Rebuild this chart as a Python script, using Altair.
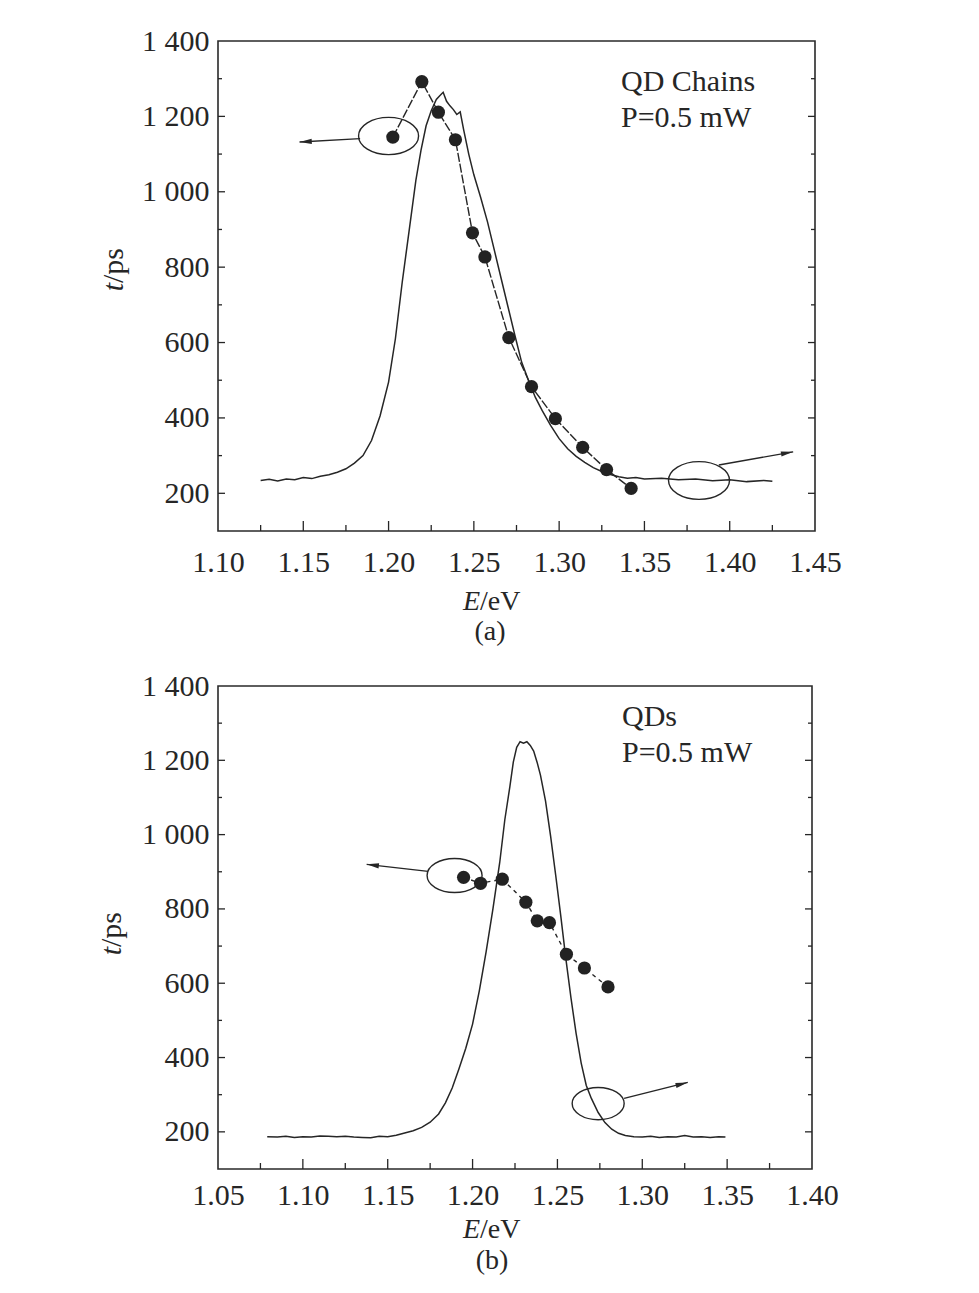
import altair as alt
import pandas as pd

FONT = "Liberation Serif"
INK = "#262626"
FS = 30
FS_T = 28

# ---------------- panel (a): QD chains ----------------
a_pl_E = [1.125, 1.130, 1.135, 1.140, 1.145, 1.150, 1.155, 1.160, 1.165, 1.170,
          1.175, 1.180, 1.185, 1.190, 1.195, 1.200, 1.204, 1.208, 1.212, 1.216,
          1.219, 1.222, 1.225, 1.228, 1.230, 1.232, 1.234, 1.236, 1.238, 1.240,
          1.242, 1.244, 1.247, 1.250, 1.254, 1.258, 1.262, 1.266, 1.270, 1.274,
          1.278, 1.282, 1.286, 1.290, 1.295, 1.300, 1.305, 1.310, 1.315, 1.320,
          1.325, 1.330, 1.335, 1.340, 1.345, 1.350, 1.360, 1.370, 1.380, 1.390,
          1.400, 1.410, 1.420, 1.425]
a_pl_t = [234, 237, 233, 238, 236, 242, 239, 245, 249, 256,
          265, 280, 300, 340, 405, 495, 610, 760, 895, 1030,
          1110, 1175, 1215, 1245, 1255, 1264, 1240, 1228, 1218, 1205,
          1212, 1165, 1100, 1045, 985, 920, 845, 770, 695, 620,
          548, 500, 455, 420, 380, 345, 318, 298, 282, 268,
          258, 250, 244, 240, 242, 238, 240, 236, 238, 233,
          236, 231, 234, 232]
a_dot_E = [1.2025, 1.2195, 1.2292, 1.2392, 1.2492, 1.2565, 1.2705, 1.2838,
           1.2978, 1.3138, 1.3278, 1.3422]
a_dot_t = [1145, 1292, 1211, 1138, 891, 827, 613, 483, 398, 322, 263, 213]
a_xticks = [1.10, 1.15, 1.20, 1.25, 1.30, 1.35, 1.40, 1.45]
a_xmajor_in = [1.15, 1.20, 1.25, 1.30, 1.35, 1.40]
a_xminor = [1.125, 1.175, 1.225, 1.275, 1.325, 1.375, 1.425]
a_ell_E = [1.200, 1.382]
a_ell_t = [1148, 234]
a_arr_E0 = [1.1833, 1.3936]
a_arr_t0 = [1141, 275]
a_arr_E1 = [1.1478, 1.4372]
a_arr_t1 = [1132, 310]
a_notes = ["QD Chains", "P=0.5 mW"]
a_caption = ["(a)"]

# ---------------- panel (b): QDs ----------------
b_pl_E = [1.079, 1.085, 1.090, 1.095, 1.100, 1.105, 1.110, 1.115, 1.120, 1.125,
          1.130, 1.135, 1.140, 1.145, 1.150, 1.155, 1.160, 1.165, 1.170, 1.175,
          1.180, 1.184, 1.188, 1.192, 1.196, 1.200, 1.204, 1.208, 1.212, 1.216,
          1.219, 1.222, 1.224, 1.226, 1.228, 1.230, 1.232, 1.234, 1.236, 1.238,
          1.240, 1.243, 1.246, 1.249, 1.252, 1.255, 1.258, 1.261, 1.264, 1.267,
          1.270, 1.274, 1.278, 1.282, 1.286, 1.290, 1.295, 1.300, 1.305, 1.310,
          1.315, 1.320, 1.325, 1.330, 1.335, 1.340, 1.345, 1.349]
b_pl_t = [187, 186, 188, 185, 187, 186, 189, 188, 187, 188,
          186, 185, 184, 188, 187, 191, 197, 203, 212, 226,
          248, 278, 318, 370, 425, 490, 580, 685, 800, 925,
          1040, 1130, 1195, 1235, 1250, 1246, 1250, 1240, 1225, 1195,
          1160, 1090, 995, 890, 780, 665, 560, 465, 385, 325,
          290, 252, 225, 207, 196, 190, 187, 186, 188, 185,
          187, 186, 190, 186, 187, 185, 187, 186]
b_dot_E = [1.1947, 1.2047, 1.2175, 1.2314, 1.2381, 1.2453, 1.2553, 1.2659, 1.2798]
b_dot_t = [885, 869, 880, 818, 768, 763, 678, 641, 590]
b_xticks = [1.05, 1.10, 1.15, 1.20, 1.25, 1.30, 1.35, 1.40]
b_xmajor_in = [1.10, 1.15, 1.20, 1.25, 1.30, 1.35]
b_xminor = [1.075, 1.125, 1.175, 1.225, 1.275, 1.325, 1.375]
b_ell_E = [1.1894, 1.274]
b_ell_t = [890, 276]
b_arr_E0 = [1.1738, 1.2893]
b_arr_t0 = [901, 290]
b_arr_E1 = [1.1376, 1.3268]
b_arr_t1 = [920, 333]
b_notes = ["QDs", "P=0.5 mW"]
b_caption = ["(b)"]

# ---------------- shared ----------------
y_ticks = [200, 400, 600, 800, 1000, 1200, 1400]
y_major_in = [200, 400, 600, 800, 1000, 1200]
y_minor = [300, 500, 700, 900, 1100, 1300]
x_title = ["E", "/eV"]
y_title = ["t", "/ps"]

K = 0.5523
R = 0.62
ELLIPSE = (f"M1,0 C1,{K*R:.4f} {K:.4f},{R} 0,{R} C{-K:.4f},{R} -1,{K*R:.4f} -1,0 "
           f"C-1,{-K*R:.4f} {-K:.4f},{-R} 0,{-R} C{K:.4f},{-R} 1,{-K*R:.4f} 1,0 Z")
HEAD = "M0,0 L-2,-0.42 L-2,0.42 Z"


def panel(pl_E, pl_t, dot_E, dot_t, xdom, xticks, xmajor, xminor,
          ell_E, ell_t, ell_sizes, a0E, a0t, a1E, a1t, angles,
          notes, caption, W, H, lay):
    xs = alt.Scale(domain=xdom, nice=False, zero=False)
    ys = alt.Scale(domain=[100, 1400], nice=False, zero=False)

    xaxis = alt.Axis(values=xticks, format=".2f", title=None, ticks=False, tickSize=0,
                     domain=False, grid=False, labelPadding=lay["xpad"],
                     labelFontSize=FS, labelFont=FONT, labelColor=INK,
                     labelFlush=False, labelOverlap=False)
    yaxis = alt.Axis(values=y_ticks, title=None, ticks=False, tickSize=0, domain=False,
                     grid=False, labelPadding=9, labelFontSize=FS, labelFont=FONT,
                     labelColor=INK, labelFlush=False, labelOverlap=False,
                     labelExpr="replace(format(datum.value, ','), ',', ' ')")

    def X(f):
        return alt.X(f, scale=xs, axis=xaxis)

    def Y(f):
        return alt.Y(f, scale=ys, axis=yaxis)

    pl = alt.Chart(pd.DataFrame({"E": pl_E, "t": pl_t})).mark_line(
        color=INK, strokeWidth=1.5).encode(x=X("E:Q"), y=Y("t:Q"))

    dots_df = pd.DataFrame({"E": dot_E, "t": dot_t})
    dline = alt.Chart(dots_df).mark_line(
        color=INK, strokeWidth=1.4, strokeDash=lay["dash"]).encode(x=X("E:Q"), y=Y("t:Q"))
    dots = alt.Chart(dots_df).mark_circle(
        color="#222222", size=175, opacity=1).encode(x=X("E:Q"), y=Y("t:Q"))

    layers = [pl, dline, dots]

    # ellipses
    for i in range(len(ell_E)):
        layers.append(alt.Chart(pd.DataFrame({"E": [ell_E[i]], "t": [ell_t[i]]})).mark_point(
            shape=ELLIPSE, size=ell_sizes[i], filled=False, color=INK,
            strokeWidth=1.4, opacity=1).encode(x=X("E:Q"), y=Y("t:Q")))

    # arrows
    for i in range(len(a0E)):
        adf = pd.DataFrame({"E": [a0E[i]], "t": [a0t[i]], "E1": [a1E[i]], "t1": [a1t[i]]})
        layers.append(alt.Chart(adf).mark_rule(color=INK, strokeWidth=1.4).encode(
            x=X("E:Q"), y=Y("t:Q"), x2="E1:Q", y2="t1:Q"))
        layers.append(alt.Chart(adf).mark_point(
            shape=HEAD, size=150, filled=True, color=INK, opacity=1,
            angle=angles[i]).encode(x=X("E1:Q"), y=Y("t1:Q")))

    # inward ticks
    def xt(vals, ln):
        return alt.Chart(pd.DataFrame({"E": vals})).mark_rule(
            color=INK, strokeWidth=1.3).encode(
            x=X("E:Q"), y=alt.value(H), y2=alt.value(H - ln))

    def yt(vals, ln, side):
        x0 = 0 if side == "left" else W
        x1 = ln if side == "left" else W - ln
        return alt.Chart(pd.DataFrame({"t": vals})).mark_rule(
            color=INK, strokeWidth=1.3).encode(
            y=Y("t:Q"), x=alt.value(x0), x2=alt.value(x1))

    layers += [xt(xmajor, 10), xt(xminor, 6),
               yt(y_major_in, 7, "left"), yt(y_minor, 4, "left"),
               yt(y_major_in, 7, "right"), yt(y_minor, 4, "right")]

    # annotation text
    for i, s in enumerate(notes):
        layers.append(alt.Chart(pd.DataFrame({"s": [s]})).mark_text(
            font=FONT, fontSize=FS, color=INK, align="left", baseline="middle").encode(
            x=alt.value(lay["note_x"]), y=alt.value(lay["note_y"][i]), text="s:N"))

    # x title (italic E + /eV)
    layers.append(alt.Chart(pd.DataFrame({"s": [x_title[0]]})).mark_text(
        font=FONT, fontSize=FS_T, fontStyle="italic", color=INK, align="right",
        baseline="middle").encode(
        x=alt.value(lay["xt_x"]), y=alt.value(H + lay["xt_dy"]), text="s:N"))
    layers.append(alt.Chart(pd.DataFrame({"s": [x_title[1]]})).mark_text(
        font=FONT, fontSize=FS_T, color=INK, align="left", baseline="middle").encode(
        x=alt.value(lay["xt_x"]), y=alt.value(H + lay["xt_dy"]), text="s:N"))
    # caption
    layers.append(alt.Chart(pd.DataFrame({"s": caption})).mark_text(
        font=FONT, fontSize=FS_T, color=INK, align="center", baseline="middle").encode(
        x=alt.value(lay["cap_x"]), y=alt.value(H + lay["cap_dy"]), text="s:N"))
    # y title (italic t + /ps), rotated
    layers.append(alt.Chart(pd.DataFrame({"s": [y_title[0]]})).mark_text(
        font=FONT, fontSize=FS, fontStyle="italic", color=INK, align="right",
        baseline="middle", angle=270).encode(
        x=alt.value(lay["yt_x"]), y=alt.value(lay["yt_y"]), text="s:N"))
    layers.append(alt.Chart(pd.DataFrame({"s": [y_title[1]]})).mark_text(
        font=FONT, fontSize=FS, color=INK, align="left",
        baseline="middle", angle=270).encode(
        x=alt.value(lay["yt_x"]), y=alt.value(lay["yt_y"]), text="s:N"))

    return alt.layer(*layers).properties(width=W, height=H)


chart_a = panel(a_pl_E, a_pl_t, a_dot_E, a_dot_t, [1.10, 1.45], a_xticks, a_xmajor_in,
                a_xminor, a_ell_E, a_ell_t, [3600, 3720], a_arr_E0, a_arr_t0,
                a_arr_E1, a_arr_t1, [177, 350], a_notes, a_caption, 597, 490,
                dict(xpad=16, dash=[9, 2], note_x=403, note_y=[41, 77],
                     xt_x=262, xt_dy=70.5, cap_x=272, cap_dy=100.5,
                     yt_x=-104, yt_y=242))

chart_b = panel(b_pl_E, b_pl_t, b_dot_E, b_dot_t, [1.05, 1.40], b_xticks, b_xmajor_in,
                b_xminor, b_ell_E, b_ell_t, [3025, 2704], b_arr_E0, b_arr_t0,
                b_arr_E1, b_arr_t1, [187, 346], b_notes, b_caption, 594, 483,
                dict(xpad=11, dash=[4, 4], note_x=404, note_y=[31, 67],
                     xt_x=262, xt_dy=61, cap_x=274, cap_dy=92,
                     yt_x=-106, yt_y=261))

chart = alt.vconcat(chart_a, chart_b, spacing=23).properties(
    padding={"left": 88, "top": 17, "right": 5, "bottom": 0},
    background="white"
).configure_view(stroke="#2a2a2a", strokeWidth=1.6)

chart.save("out.html", embed_options={"renderer": "svg", "actions": False})
